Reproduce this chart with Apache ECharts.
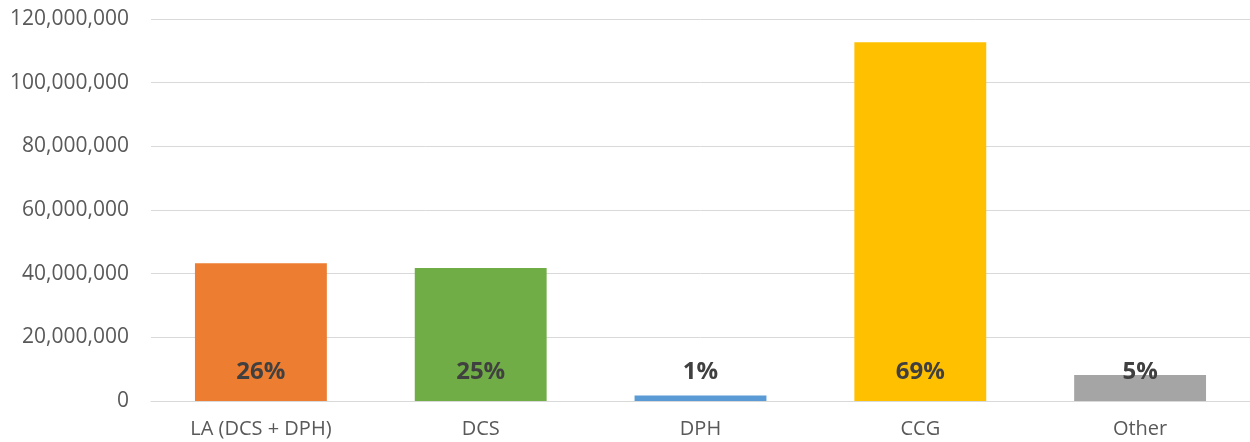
<!DOCTYPE html>
<html>
<head>
<meta charset="utf-8">
<script src="https://cdn.jsdelivr.net/npm/echarts@6/dist/echarts.min.js"></script>
<style>
html,body{margin:0;padding:0;background:#fff;}
#chart{width:1250px;height:442px;}
</style>
</head>
<body>
<div id="chart"></div>
<script>
// categories and values
var categories = ['LA (DCS + DPH)', 'DCS', 'DPH', 'CCG', 'Other'];
var values = [43300000, 41800000, 1700000, 112700000, 8200000];
var shares = ['26%', '25%', '1%', '69%', '5%'];
var colors = ['#ED7D31', '#70AD47', '#5B9BD5', '#FFC000', '#A5A5A5'];

var myChart = echarts.init(document.getElementById('chart'));
var font = 'Open Sans';

var option = {
    animation: false,
    grid: {
        left: 151,
        right: 0,
        top: 19,
        bottom: 41,
        containLabel: false
    },
    xAxis: {
        type: 'category',
        data: categories,
        axisTick: {show: false},
        axisLine: {lineStyle: {color: '#D9D9D9', width: 1}},
        axisLabel: {
            color: '#595959',
            fontFamily: font,
            fontSize: 20,
            margin: 18
        }
    },
    yAxis: {
        type: 'value',
        min: 0,
        max: 120000000,
        interval: 20000000,
        axisLine: {show: false},
        axisTick: {show: false},
        splitLine: {lineStyle: {color: '#D9D9D9', width: 1}},
        axisLabel: {
            color: '#595959',
            fontFamily: font,
            fontSize: 21,
            margin: 22,
            formatter: function (v) {
                return v.toLocaleString('en-US');
            }
        }
    },
    series: [{
        type: 'bar',
        barWidth: '60%',
        data: values.map(function (v, i) {
            return {value: v, itemStyle: {color: colors[i]}};
        }),
        label: {
            show: true,
            position: 'insideBottom',
            distance: 17,
            color: '#404040',
            fontFamily: font,
            fontWeight: 'bold',
            fontSize: 24,
            formatter: function (p) {
                return shares[p.dataIndex];
            }
        }
    }]
};
myChart.setOption(option);
</script>
</body>
</html>
